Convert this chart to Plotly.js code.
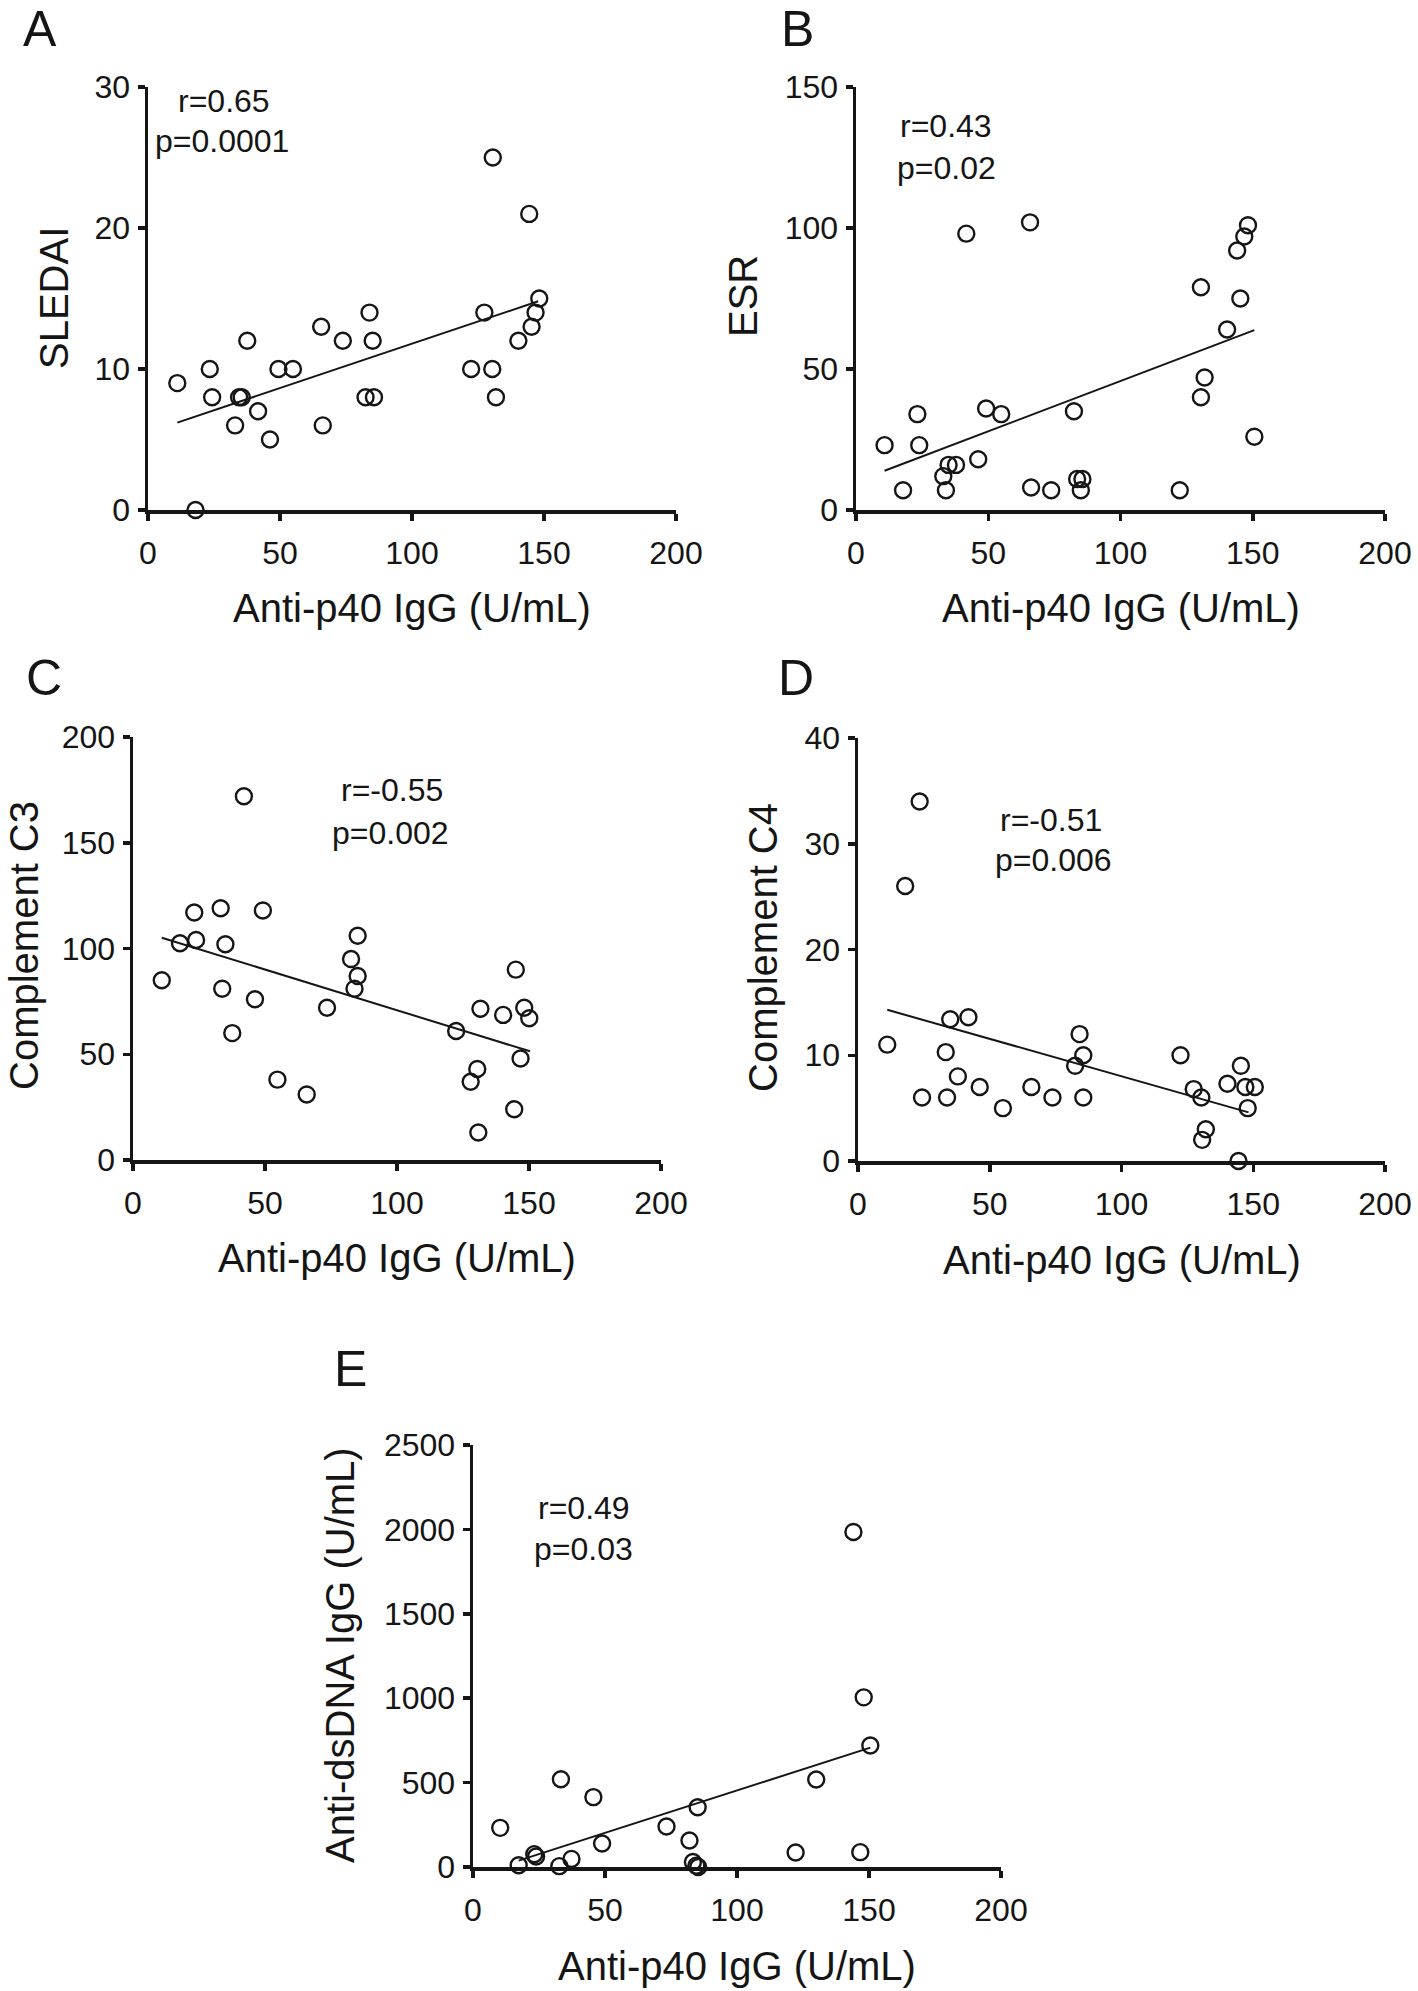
<!DOCTYPE html>
<html>
<head>
<meta charset="utf-8">
<script src="https://cdn.plot.ly/plotly-3.0.1.min.js"></script>
<style>
html,body{margin:0;padding:0;background:#ffffff;}
#chart{width:1418px;height:1991px;}
</style>
</head>
<body>
<div id="chart"></div>
<script>
// ---------------- data ----------------
const xTickVals = [0, 50, 100, 150, 200];
const xAxisTitle = 'Anti-p40 IgG (U/mL)';

const panelLetters = ['A', 'B', 'C', 'D', 'E'];
const yAxisTitles = ['SLEDAI', 'ESR', 'Complement C3', 'Complement C4', 'Anti-dsDNA IgG (U/mL)'];
const rLabels = ['r=0.65', 'r=0.43', 'r=-0.55', 'r=-0.51', 'r=0.49'];
const pLabels = ['p=0.0001', 'p=0.02', 'p=0.002', 'p=0.006', 'p=0.03'];

const sledaiTicks = [0, 10, 20, 30];
const esrTicks = [0, 50, 100, 150];
const c3Ticks = [0, 50, 100, 150, 200];
const c4Ticks = [0, 10, 20, 30, 40];
const dsdnaTicks = [0, 500, 1000, 1500, 2000, 2500];

// A: SLEDAI
const sledaiX = [11.1, 18, 23.4, 24.3, 33, 34.5, 35.5, 37.6, 41.7, 46.2, 49.4, 54.9, 65.6, 66.2, 73.8, 82.4, 83.9, 85.1, 85.6, 122.4, 127.4, 130.4, 130.6, 131.8, 140.3, 144.4, 145.3, 146.8, 148.2];
const sledaiY = [9, 0, 10, 8, 6, 8, 8, 12, 7, 5, 10, 10, 13, 6, 12, 8, 14, 12, 8, 10, 14, 10, 25, 8, 12, 21, 13, 14, 15];
const sledaiFitX = [11.1, 147.8];
const sledaiFitY = [6.2, 14.8];

// B: ESR
const esrX = [10.8, 17.8, 23.2, 23.9, 33, 34, 35, 37.8, 41.7, 46.2, 49.2, 54.9, 65.8, 66.2, 73.8, 82.4, 83.6, 85.6, 85, 122.4, 130.4, 130.4, 131.8, 140.3, 144.1, 145.3, 146.8, 148.2, 150.6];
const esrY = [23, 7, 34, 23, 12, 7, 16, 16, 98, 18, 36, 34, 102, 8, 7, 35, 11, 11, 7, 7, 79, 40, 47, 64, 92, 75, 97, 101, 26];
const esrFitX = [10.8, 150.6];
const esrFitY = [13.9, 63.8];

// C: Complement C3
const c3X = [10.9, 17.8, 23.2, 23.9, 33.2, 33.8, 35, 37.6, 42, 46.2, 49.2, 54.7, 65.8, 73.5, 82.6, 83.9, 85.1, 85.1, 122.4, 127.9, 130.4, 130.8, 131.6, 140.2, 144.4, 145, 146.8, 148.2, 150.1];
const c3Y = [85, 102.5, 117, 104, 119, 81, 102, 60, 172, 76, 118, 38, 31, 72, 95, 81, 87, 106, 61, 37, 43, 13, 71.5, 68.6, 24, 90, 48, 72, 67];
const c3FitX = [10.9, 150.4];
const c3FitY = [105.1, 51.4];

// D: Complement C4
const c4X = [11.1, 17.9, 23.4, 24.3, 33.3, 33.8, 35, 37.9, 41.9, 46.2, 55, 65.8, 73.8, 82.4, 84.1, 85.5, 85.5, 122.4, 127.4, 130.3, 130.6, 132, 140.2, 144.4, 145.3, 147, 147.9, 150.6];
const c4Y = [11, 26, 34, 6, 10.3, 6, 13.4, 8, 13.6, 7, 5, 7, 6, 9, 12, 10, 6, 10, 6.8, 6, 2, 3, 7.3, 0, 9, 7, 5, 7];
const c4FitX = [11.1, 148.2];
const c4FitY = [14.3, 4.6];

// E: Anti-dsDNA IgG
const dsdnaX = [10.3, 17.3, 23.2, 23.9, 32.7, 33.3, 37.3, 45.6, 48.9, 73.3, 82, 83.3, 84.6, 85.3, 85.1, 122.2, 130, 144.1, 146.7, 148, 150.5];
const dsdnaY = [232, 10, 76, 62, 5, 520, 48, 414, 139, 240, 157, 30, 8, 0, 354, 86, 518, 1985, 88, 1005, 720];
const dsdnaFitX = [17.3, 150.5];
const dsdnaFitY = [38, 707];

// ---------------- figure geometry (px) ----------------
const W = 1418, H = 1991;
const FONT = 'Liberation Sans, Arial, Helvetica, sans-serif';
const INK = '#151515';

const series = [
  {x: sledaiX, y: sledaiY, fx: sledaiFitX, fy: sledaiFitY, ticks: sledaiTicks},
  {x: esrX, y: esrY, fx: esrFitX, fy: esrFitY, ticks: esrTicks},
  {x: c3X, y: c3Y, fx: c3FitX, fy: c3FitY, ticks: c3Ticks},
  {x: c4X, y: c4Y, fx: c4FitX, fy: c4FitY, ticks: c4Ticks},
  {x: dsdnaX, y: dsdnaY, fx: dsdnaFitX, fy: dsdnaFitY, ticks: dsdnaTicks}
];

// plot box [left, top, right, bottom], letter pos, y-title pos, x-title y, r pos, p pos
const geo = [
  {box: [148, 87, 676, 510],    letter: [40, 29.5],   yt: [54, 298],   xt: 608,  r: [224, 100.5], p: [222, 141]},
  {box: [856, 87, 1385, 510],   letter: [797, 29.5],  yt: [743, 296],  xt: 608,  r: [945.5, 126], p: [946.5, 168]},
  {box: [133, 737, 661, 1160],  letter: [44, 678],    yt: [24, 946],   xt: 1258, r: [391.5, 790], p: [390, 833]},
  {box: [858, 738, 1385, 1161], letter: [796, 678],   yt: [763, 948],  xt: 1260, r: [1050.5, 820], p: [1053, 860]},
  {box: [473, 1445, 1001, 1867],letter: [350, 1369],  yt: [340, 1655], xt: 1966, r: [584, 1508], p: [583, 1549]}
];

const px = v => v / W;
const py = v => 1 - v / H;

const traces = [];
const layout = {
  width: W, height: H,
  margin: {l: 0, r: 0, t: 0, b: 0},
  paper_bgcolor: '#ffffff',
  plot_bgcolor: 'rgba(0,0,0,0)',
  showlegend: false,
  hovermode: false,
  font: {family: FONT, color: INK},
  annotations: []
};

function axisBase() {
  return {
    showgrid: false, zeroline: false, showline: true,
    linecolor: INK, linewidth: 3.5,
    ticks: 'outside', ticklen: 7, tickwidth: 3.5, tickcolor: INK,
    tickfont: {family: FONT, size: 32, color: INK},
    fixedrange: true
  };
}

series.forEach((s, i) => {
  const g = geo[i];
  const n = i === 0 ? '' : String(i + 1);
  const xa = 'x' + n, ya = 'y' + n;
  const yMax = s.ticks[s.ticks.length - 1];

  layout['xaxis' + n] = Object.assign(axisBase(), {
    domain: [px(g.box[0]), px(g.box[2])],
    anchor: ya,
    range: [xTickVals[0], xTickVals[xTickVals.length - 1]],
    tickmode: 'array', tickvals: xTickVals, ticktext: xTickVals.map(String),
    ticklabelstandoff: 5
  });
  layout['yaxis' + n] = Object.assign(axisBase(), {
    domain: [py(g.box[3]), py(g.box[1])],
    anchor: xa,
    range: [0, yMax],
    tickmode: 'array', tickvals: s.ticks, ticktext: s.ticks.map(String),
    ticklabelstandoff: 1
  });

  traces.push({
    type: 'scatter', mode: 'lines', x: s.fx, y: s.fy, xaxis: xa, yaxis: ya,
    line: {color: INK, width: 2}, cliponaxis: false, hoverinfo: 'skip'
  });
  traces.push({
    type: 'scatter', mode: 'markers', x: s.x, y: s.y, xaxis: xa, yaxis: ya,
    marker: {symbol: 'circle', size: 16, color: 'rgba(0,0,0,0)', line: {color: INK, width: 2.4}},
    cliponaxis: false, hoverinfo: 'skip'
  });

  const ann = (text, x, y, size, angle) => ({
    xref: 'paper', yref: 'paper', x: px(x), y: py(y),
    xanchor: 'center', yanchor: 'middle', showarrow: false,
    text: text, textangle: angle || 0, borderpad: 0,
    font: {family: FONT, size: size, color: INK}
  });

  layout.annotations.push(ann(panelLetters[i], g.letter[0], g.letter[1], 50));
  layout.annotations.push(ann(yAxisTitles[i], g.yt[0], g.yt[1], 40, -90));
  layout.annotations.push(ann(xAxisTitle, (g.box[0] + g.box[2]) / 2, g.xt, 40));
  layout.annotations.push(ann(rLabels[i], g.r[0], g.r[1], 32));
  layout.annotations.push(ann(pLabels[i], g.p[0], g.p[1], 32));
});

Plotly.newPlot('chart', traces, layout, {displayModeBar: false, staticPlot: true});
</script>
</body>
</html>
